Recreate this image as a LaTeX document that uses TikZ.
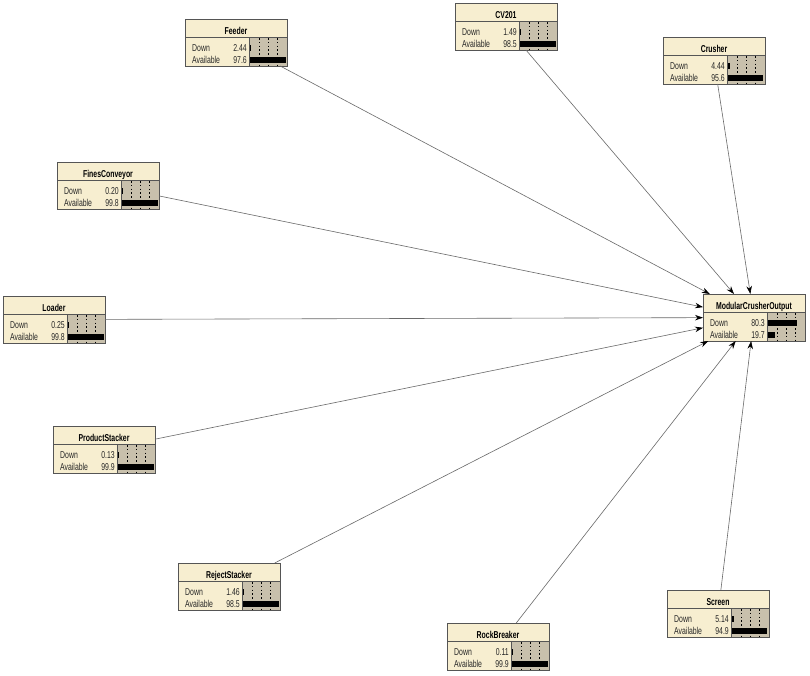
\documentclass[tikz,border=0pt]{standalone}
\usepackage{fontspec}
\setmainfont{Liberation Sans}[FakeStretch=0.69]
\usetikzlibrary{arrows.meta}
\definecolor{cream}{RGB}{247,238,208}
\definecolor{barbg}{RGB}{200,192,172}
\definecolor{edgec}{RGB}{85,85,85}
\definecolor{linec}{RGB}{105,105,105}
\tikzset{
  bnframe/.style={rectangle, fill=cream, draw=none, minimum width=102pt, minimum height=47pt, inner sep=0pt, outer sep=0pt},
  tickline/.style={black, line width=0.5pt, dash pattern=on 1.6pt off 2.2pt},
  boxedge/.style={draw=edgec, line width=0.7pt},
  titletext/.style={anchor=base, inner sep=0pt, font=\fontsize{10}{12}\selectfont\bfseries},
  labtext/.style={anchor=base west, inner sep=0pt, font=\fontsize{10}{12}\selectfont, text=black!85},
  valtext/.style={anchor=base east, inner sep=0pt, font=\fontsize{10}{12}\selectfont, text=black!85},
  conn/.style={draw=linec, line width=0.6pt, -{Stealth[length=8pt,width=5.5pt,black]}}
}
\newcommand\bnbox[6]{%
\begin{scope}[shift={(#3,#4)}]
  \node[bnframe] (#1) at (51,23.5) {};
  \fill[barbg] (64,18) rectangle (102,47);
  \foreach \f in {0.25,0.5,0.75} \draw[tickline] ({65+36.5*\f},19) -- ({65+36.5*\f},47);
  \fill[black] (65,25.5) rectangle ({65+0.365*#5},31.5);
  \fill[black] (65,37.5) rectangle ({65+0.365*#6},43.5);
  \draw[boxedge] (0,18) -- (102,18);
  \draw[boxedge] (64,18) -- (64,47);
  \draw[boxedge] (0,0) rectangle (102,47);
  \node[titletext] at (51,15.3) {#2};
  \node[labtext] at (7,32.1) {Down};
  \node[labtext] at (7,44.1) {Available};
  \node[valtext] at (62,32.1) {#5};
  \node[valtext] at (62,44.1) {#6};
\end{scope}}
\begin{document}
\begin{tikzpicture}[x=1pt,y=-1pt]
\fill[white] (0,0) rectangle (810,675);
\useasboundingbox (0,0) rectangle (810,675);
\bnbox{feeder}{Feeder}{185}{19}{2.44}{97.6}
\bnbox{cv}{CV201}{455}{3}{1.49}{98.5}
\bnbox{crusher}{Crusher}{663}{37}{4.44}{95.6}
\bnbox{fines}{FinesConveyor}{57}{162}{0.20}{99.8}
\bnbox{loader}{Loader}{3}{296}{0.25}{99.8}
\bnbox{product}{ProductStacker}{53}{426}{0.13}{99.9}
\bnbox{reject}{RejectStacker}{178}{563}{1.46}{98.5}
\bnbox{rock}{RockBreaker}{447}{623}{0.11}{99.9}
\bnbox{screen}{Screen}{667}{590}{5.14}{94.9}
\bnbox{mco}{ModularCrusherOutput}{703}{294}{80.3}{19.7}
\foreach \s in {feeder,cv,crusher,fines,loader,product,reject,rock,screen}
  \draw[conn] (\s) -- (mco);
\end{tikzpicture}
\end{document}
